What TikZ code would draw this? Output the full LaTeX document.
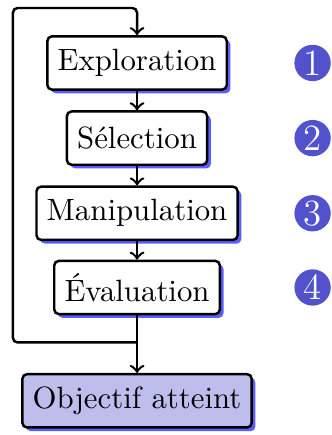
\documentclass[tikz,border=0pt]{standalone}
\usepackage{amsmath}
\usepackage{tikz}
\usetikzlibrary{arrows,shapes,positioning,shadows,calc}

\definecolor{stepblue}{RGB}{82,82,204}
\definecolor{goalfill}{RGB}{190,190,236}

\tikzset{
  stage/.style={draw, thick, rounded corners=1.5pt, fill=white, minimum height=17.3pt,
    drop shadow={shadow xshift=1.2pt, shadow yshift=-1.2pt, fill=blue!85, opacity=.75}},
  num/.style={circle, fill=stepblue, text=white, inner sep=0pt, minimum size=11.8pt, font=\large},
}

\begin{document}
\begin{tikzpicture}[thick]
      \useasboundingbox (-44.5pt,20.45pt) rectangle (63pt,-120.8pt);

      \node[stage] (expl) at (0,0) {Exploration};
      \node[stage, below= 6.3pt of expl] (sel) {Sélection};
      \node[stage, below= 6.3pt of sel] (manip) {Manipulation};
      \node[stage, below= 6.0pt of manip] (eval) {Évaluation};
      \node[stage, fill=goalfill, below= 18.7pt of eval] (goal) {Objectif atteint};

      % step numbers
      \coordinate (col) at (57pt,0);
      \node[num] (n1) at (col |- expl) {1};
      \node[num] (n2) at (col |- sel) {2};
      \node[num] (n3) at (col |- manip) {3};
      \node[num] (n4) at (col |- eval) {4};

      \path [->] (expl) edge (sel);
      \path [->] (sel) edge (manip);
      \path [->] (manip) edge (eval);
      \path [->] (eval) edge (goal);

      % loop back
      \coordinate (back) at ([yshift=-8.8pt]eval.south);
      \coordinate (up) at ([yshift=8.8pt]expl.north);
      \coordinate (side) at (-40.3pt,0);
      \draw[->, rounded corners=1.5pt] (back) -| (side) |- (up) -- (expl.north);

    \end{tikzpicture}
\end{document}
